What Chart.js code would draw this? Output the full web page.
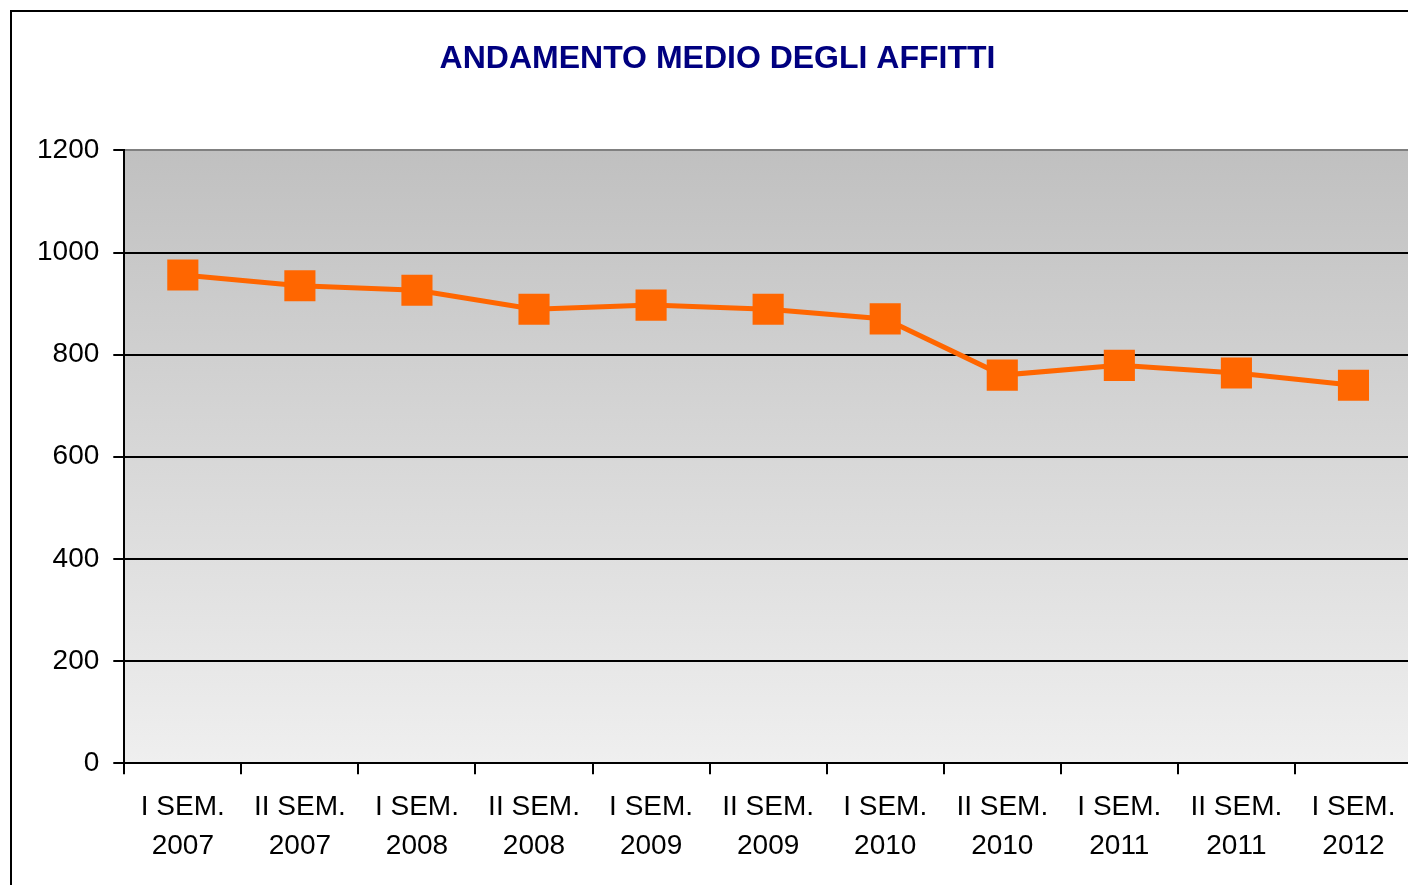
<!DOCTYPE html>
<html>
<head>
<meta charset="utf-8">
<script src="https://cdn.jsdelivr.net/npm/chart.js@4/dist/chart.umd.min.js"></script>
<style>
  html, body { margin: 0; padding: 0; background: #fff; overflow: hidden; }
  #frame {
    position: absolute; left: 10px; top: 10px; width: 1500px; height: 1000px;
    border-left: 2px solid #000; border-top: 2px solid #000; pointer-events: none;
  }
  #chart { position: absolute; left: 0; top: 0; }
</style>
</head>
<body>
<canvas id="chart" width="1440" height="885"></canvas>
<div id="frame"></div>
<script>
// semesters and average rents
const semesters = [
  ["I SEM.", "2007"], ["II SEM.", "2007"], ["I SEM.", "2008"], ["II SEM.", "2008"],
  ["I SEM.", "2009"], ["II SEM.", "2009"], ["I SEM.", "2010"], ["II SEM.", "2010"],
  ["I SEM.", "2011"], ["II SEM.", "2011"], ["I SEM.", "2012"]
];
const rents = [956, 935, 926, 889, 897, 889, 870, 760, 779, 764, 740];
const yTicks = [0, 200, 400, 600, 800, 1000, 1200];

const FONT = "Arial, 'Liberation Sans', sans-serif";

// grey gradient behind the plot
const plotBackground = {
  id: "plotBackground",
  beforeDraw(chart) {
    const { ctx, chartArea: a } = chart;
    const g = ctx.createLinearGradient(0, a.top, 0, a.bottom);
    g.addColorStop(0, "#c0c0c0");
    g.addColorStop(1, "#efefef");
    ctx.save();
    ctx.fillStyle = g;
    ctx.fillRect(a.left, a.top, a.right - a.left, a.bottom - a.top);
    ctx.restore();
  }
};

const ctx = document.getElementById("chart").getContext("2d");
new Chart(ctx, {
  type: "line",
  data: {
    labels: semesters,
    datasets: [{
      label: "Affitti",
      data: rents,
      borderColor: "#ff6600",
      backgroundColor: "#ff6600",
      borderWidth: 5,
      pointStyle: "rect",
      pointRadius: 22,
      pointBorderWidth: 0,
      tension: 0
    }]
  },
  options: {
    responsive: false,
    animation: false,
    devicePixelRatio: 1,
    layout: { padding: { left: 23, top: 30, bottom: 5, right: 28 } },
    plugins: {
      legend: { display: false },
      tooltip: { enabled: false },
      title: {
        display: true,
        text: "ANDAMENTO MEDIO DEGLI AFFITTI",
        color: "#000080",
        font: { family: FONT, size: 32, weight: "bold", lineHeight: 1.2 },
        padding: { top: 10, bottom: 72 }
      }
    },
    scales: {
      x: {
        offset: true,
        grid: {
          offset: true,
          drawOnChartArea: false,
          drawTicks: true,
          tickLength: 11,
          tickColor: "#000",
          lineWidth: 2
        },
        border: { color: "#000", width: 2 },
        ticks: {
          color: "#000",
          padding: 14,
          maxRotation: 0,
          autoSkip: false,
          font: { family: FONT, size: 28, lineHeight: 1.39 }
        }
      },
      y: {
        min: 0,
        max: 1200,
        afterBuildTicks: axis => { axis.ticks = yTicks.map(v => ({ value: v })); },
        grid: {
          color: c => (c.tick && c.tick.value === 1200 ? "#808080" : "#000"),
          tickColor: "#000",
          lineWidth: 2,
          tickLength: 11
        },
        border: { color: "#000", width: 2 },
        ticks: {
          color: "#000",
          padding: 14,
          callback: v => String(v),
          font: { family: FONT, size: 28 }
        }
      }
    }
  },
  plugins: [plotBackground]
});
</script>
</body>
</html>
